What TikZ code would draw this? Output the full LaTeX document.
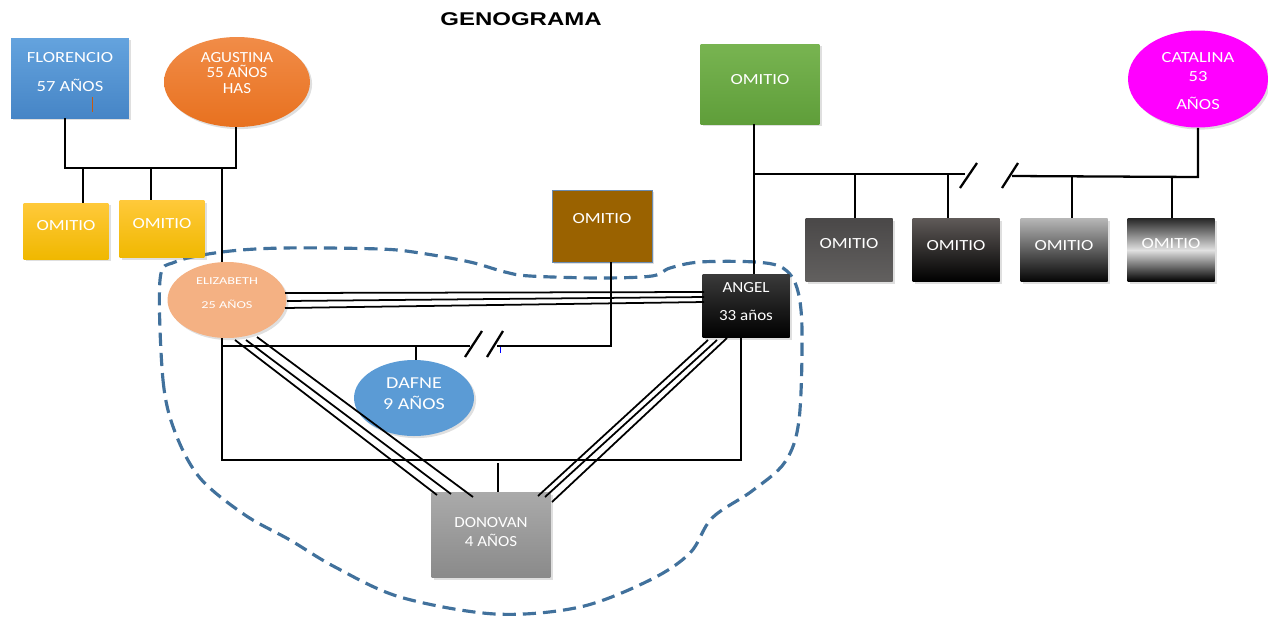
\documentclass[tikz,border=0pt]{standalone}
\usepackage{fontspec}
\setmainfont{Carlito}
\newfontfamily\titlefont[FakeStretch=1.3]{Liberation Sans}
\newfontfamily\wfont[FakeStretch=1.2]{Carlito}
\newfontfamily\mfont[FakeStretch=1.1]{Carlito}
\newfontfamily\xfont[FakeStretch=1.35]{Carlito}
\usetikzlibrary{shadows,shapes.geometric}
\definecolor{dashblue}{HTML}{41719C}
\definecolor{florT}{RGB}{100,163,222}
\definecolor{florB}{RGB}{70,133,198}
\definecolor{tickor}{RGB}{197,90,17}
\definecolor{agusT}{RGB}{241,140,72}
\definecolor{agusB}{RGB}{232,113,31}
\definecolor{yelT}{RGB}{255,201,58}
\definecolor{yelB}{RGB}{240,184,0}
\definecolor{brownF}{RGB}{154,98,0}
\definecolor{brownD}{RGB}{106,139,176}
\definecolor{grnT}{RGB}{120,180,81}
\definecolor{grnB}{RGB}{95,158,58}
\definecolor{magF}{RGB}{255,0,255}
\definecolor{elizF}{RGB}{244,177,131}
\definecolor{angT}{RGB}{58,58,58}
\definecolor{dafF}{RGB}{91,155,213}
\definecolor{donT}{RGB}{170,170,170}
\definecolor{donB}{RGB}{138,138,138}
\definecolor{gaT}{RGB}{74,72,72}
\definecolor{gaB}{RGB}{98,96,95}
\definecolor{gbT}{RGB}{95,90,88}
\definecolor{gcT}{RGB}{182,182,182}
\definecolor{gcB}{RGB}{5,5,5}
\definecolor{gdT}{RGB}{40,40,40}
\definecolor{gdM}{RGB}{225,225,225}
\begin{document}
\begin{tikzpicture}[x=0.02cm,y=-0.02cm,
  lbl/.style={text=white,inner sep=0,font=\wfont\fontsize{8.8}{10}\selectfont},
  mlbl/.style={text=white,inner sep=0,font=\mfont\fontsize{8.8}{10}\selectfont},
  small/.style={text=white,inner sep=0,font=\xfont\fontsize{6}{7}\selectfont},
  sh/.style={drop shadow={shadow xshift=1.2pt,shadow yshift=-1.2pt,opacity=0.25}},
  boxs/.style={rectangle,inner sep=0,sh},
  ell/.style={ellipse,inner sep=0,sh},
  ln/.style={line width=1.3pt,black},
  tri/.style={line width=1pt,black}]
\useasboundingbox (0,0) rectangle (1268,620);

% title
\node[font=\titlefont\bfseries\fontsize{10.5}{12}\selectfont] (title) at (521,19) {GENOGRAMA};

% dashed family boundary
\draw[dashblue,line width=1.8pt,dash pattern=on 7.5pt off 4pt] plot[smooth cycle,tension=0.55] coordinates {
 (160,280) (163,380) (175,432) (200,478) (245,515) (290,540) (335,567) (400,597) (495,614)
 (580,607) (650,580) (690,553) (712,518) (752,491) (785,462) (799,420) (802,330) (797,288)
 (783,268) (755,262) (700,262) (670,268) (652,276) (600,278) (530,276) (505,272) (470,262)
 (420,253) (380,249) (283,248) (222,252) (175,262)};

% nodes
\node[boxs,minimum width=2.36cm,minimum height=1.6cm,top color=florT,bottom color=florB] (flor) at (70,78) {};
\node[lbl] (florT1) at (70,58) {FLORENCIO};
\node[lbl] (florT2) at (70,85) {57 AÑOS};
\draw[tickor,line width=0.5pt] (92,97) -- (92,112);

\node[ell,minimum width=2.92cm,minimum height=1.8cm,top color=agusT,bottom color=agusB] (agus) at (237,82) {};
\node[mlbl,align=center,font=\mfont\fontsize{8.8}{8.8}\selectfont] (agusTx) at (237,73) {AGUSTINA\\55 AÑOS\\HAS};

\node[boxs,minimum width=1.7cm,minimum height=1.12cm,top color=yelT,bottom color=yelB] (y1) at (66,231) {};
\node[lbl] (y1T) at (66,226) {OMITIO};
\node[boxs,minimum width=1.7cm,minimum height=1.14cm,top color=yelT,bottom color=yelB] (y2) at (162,229) {};
\node[lbl] (y2T) at (162,224) {OMITIO};

\node[boxs,minimum width=2.0cm,minimum height=1.44cm,fill=brownF,draw=brownD,line width=0.4pt] (brown) at (602,226) {};
\node[lbl] (brownT) at (602,219) {OMITIO};

\node[boxs,minimum width=2.38cm,minimum height=1.6cm,top color=grnT,bottom color=grnB] (green) at (760,84) {};
\node[lbl] (greenT) at (760,80) {OMITIO};

\node[ell,minimum width=2.8cm,minimum height=1.94cm,fill=magF] (cat) at (1198,79) {};
\node[lbl] (catT1) at (1198,58) {CATALINA};
\node[lbl] (catT2) at (1198,77) {53};
\node[lbl] (catT3) at (1198,103) {AÑOS};

\node[ell,minimum width=2.38cm,minimum height=1.52cm,fill=elizF] (eliz) at (227,300) {};
\node[small] (elizT1) at (227,281) {ELIZABETH};
\node[small] (elizT2) at (227,304) {25 AÑOS};

\node[boxs,minimum width=1.74cm,minimum height=1.26cm,top color=angT,bottom color=black] (ang) at (746,306) {};
\node[mlbl] (angT1) at (746,288) {ANGEL};
\node[mlbl] (angT2) at (746,315) {33 años};

\node[ell,minimum width=2.4cm,minimum height=1.52cm,fill=dafF] (dafne) at (414,398) {};
\node[lbl,font=\wfont\fontsize{9.5}{10}\selectfont] (dafT1) at (414,383) {DAFNE};
\node[lbl,font=\wfont\fontsize{9.5}{10}\selectfont] (dafT2) at (414,403) {9 AÑOS};

\node[boxs,minimum width=2.38cm,minimum height=1.7cm,top color=donT,bottom color=donB] (don) at (491,535) {};
\node[mlbl] (donT1) at (491,523) {DONOVAN};
\node[mlbl] (donT2) at (491,540) {4 AÑOS};

\node[boxs,minimum width=1.74cm,minimum height=1.26cm,top color=gaT,bottom color=gaB] (ga) at (849,250) {};
\node[lbl] (gaT) at (849,244) {OMITIO};
\node[boxs,minimum width=1.74cm,minimum height=1.26cm,top color=gbT,bottom color=black] (gb) at (956,250) {};
\node[lbl] (gbT) at (956,246) {OMITIO};
\node[boxs,minimum width=1.74cm,minimum height=1.26cm,top color=gcT,bottom color=gcB] (gc) at (1064,250) {};
\node[lbl] (gcT) at (1064,246) {OMITIO};
\node[boxs,minimum width=1.74cm,minimum height=1.26cm,top color=gdT,bottom color=black,middle color=gdM] (gd) at (1171,250) {};
\node[lbl] (gdT) at (1171,244) {OMITIO};

% junction coordinates
\coordinate (fL) at (65,168);
\coordinate (fR) at (236,168);
\coordinate (c1) at (83,168);
\coordinate (c2) at (151,168);
\coordinate (c3) at (222,168);
\coordinate (eB) at (222,338);
\coordinate (rBL) at (222,460);
\coordinate (rBR) at (741,460);
\coordinate (aB) at (741,338);
\coordinate (dT) at (498,463);
\coordinate (kL) at (222,346);
\coordinate (kS1) at (470,346);
\coordinate (kS2) at (497,346);
\coordinate (kR) at (611,346);
\coordinate (kD) at (416,346);
\coordinate (gJ) at (754,174);
\coordinate (gS1) at (965,174);
\coordinate (gS2) at (1012,176);
\coordinate (cJ) at (1198,177);
\coordinate (d1) at (855,174);
\coordinate (d2) at (948,174);
\coordinate (d3) at (1072,176);
\coordinate (d4) at (1172,177);

% Florencio - Agustina
\draw[ln] (flor.south -| fL) -- (fL) -- (fR) -- (agus.south -| fR);
\draw[ln] (c1) -- (y1.north -| c1);
\draw[ln] (c2) -- (y2.north -| c2);
\draw[ln] (c3) -- (eliz.north -| c3);

% Elizabeth - Angel (triple)
\draw[tri] (285,293) -- (704,292);
\draw[tri] (287,301) -- (704,297);
\draw[tri] (285,308) -- (704,302);

% Elizabeth - Angel children frame
\draw[ln] (eB) -- (rBL) -- (rBR) -- (aB);
\draw[ln] (dT) -- (don.north -| dT);

% Elizabeth - brown (separated)
\draw[ln] (kL) -- (kS1);
\draw[ln] (kS2) -- (kR) -- (brown.south -| kR);
\draw[ln] (kD) -- (dafne.north -| kD);
\draw[line width=1.3pt] (465,357) -- (482,331);
\draw[line width=1.3pt] (487,357) -- (503,331);
\draw[blue,line width=0.4pt] (500,347) -- (500,353);

% triple diagonals to Donovan
\draw[tri] (235,340) -- (437,495);
\draw[tri] (246,340) -- (451,494);
\draw[tri] (257,337) -- (473,497);
\draw[tri] (708,340) -- (538,496);
\draw[tri] (717,340) -- (545,497);
\draw[tri] (727,338) -- (552,502);

% green - Angel, green - Catalina
\draw[ln] (green.south -| gJ) -- (ang.north -| gJ);
\draw[ln] (gJ) -- (gS1);
\draw[ln] (gS2) -- (cJ) -- (cat.south -| cJ);
\draw[line width=1.3pt] (960,188) -- (977,163);
\draw[line width=1.3pt] (1002,188) -- (1018,163);
\draw[ln] (d1) -- (ga.north -| d1);
\draw[ln] (d2) -- (gb.north -| d2);
\draw[ln] (d3) -- (gc.north -| d3);
\draw[ln] (d4) -- (gd.north -| d4);
\end{tikzpicture}
\end{document}
